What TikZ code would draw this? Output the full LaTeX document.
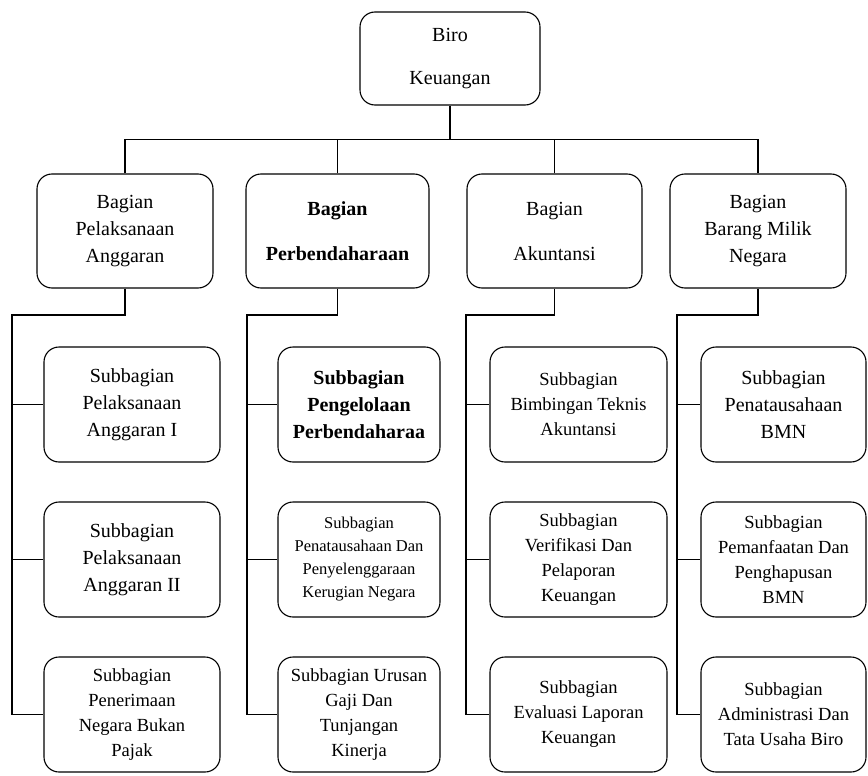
\documentclass[tikz,border=0pt]{standalone}
\usepackage{fontspec}
\setmainfont{Liberation Serif}
\usetikzlibrary{positioning}

\begin{document}
\begin{tikzpicture}[x=1pt,y=-1pt,line width=1.1pt,node distance=155pt,
    big/.style={font=\fontsize{20}{27}\selectfont},
    mid/.style={font=\fontsize{18.5}{25}\selectfont},
    small/.style={font=\fontsize{16.5}{23}\selectfont},
    bold/.style={font=\fontsize{20}{27}\selectfont\bfseries},
    unit/.style={draw,rounded corners=15pt,align=center,inner sep=2pt,big},
    bagian/.style={unit,minimum width=176pt,minimum height=114pt},
    sub/.style={unit,minimum width=176pt,minimum height=115pt},
    narrow/.style={minimum width=162pt},
    edge4/.style={minimum width=165pt}]

        \useasboundingbox (0,0) rectangle (868,776);

        \node[unit,minimum width=180pt,minimum height=93pt] (biro) at (450,58.5)
              {Biro\\[16pt]Keuangan};

        \node[bagian] (bpa) at (125,231) {Bagian\\Pelaksanaan\\Anggaran};
        \node[bagian,bold,minimum width=183pt] (bper) at (337.5,231)
              {Bagian\\[18pt]Perbendaharaan};
        \node[bagian,minimum width=175pt] (bak) at (554.5,231) {Bagian\\[18pt]Akuntansi};
        \node[bagian] (bbmn) at (758,231) {Bagian\\Barang Milik\\Negara};

        \node[sub] (spa1) at (132,404.5) {Subbagian\\Pelaksanaan\\Anggaran I};
        \node[sub] (spa2) [below of=spa1] {Subbagian\\Pelaksanaan\\Anggaran II};
        \node[sub,mid] (spnbp) [below of=spa2]
              {Subbagian\\Penerimaan\\Negara Bukan\\Pajak};

        \node[sub,narrow,bold] (sppb) at (359,404.5)
              {Subbagian\\Pengelolaan\\Perbendaharaa};
        \node[sub,narrow,small] (spkn) [below of=sppb]
              {Subbagian\\Penatausahaan Dan\\Penyelenggaraan\\Kerugian Negara};
        \node[sub,narrow,mid] (sgaji) [below of=spkn]
              {Subbagian Urusan\\Gaji Dan\\Tunjangan\\Kinerja};

        \node[sub,minimum width=177pt,mid] (sbta) at (578.5,404.5)
              {Subbagian\\Bimbingan Teknis\\Akuntansi};
        \node[sub,minimum width=177pt,mid] (svpk) [below of=sbta]
              {Subbagian\\Verifikasi Dan\\Pelaporan\\Keuangan};
        \node[sub,minimum width=177pt,mid] (selk) [below of=svpk]
              {Subbagian\\Evaluasi Laporan\\Keuangan};

        \node[sub,edge4] (spbmn) at (783.5,404.5) {Subbagian\\Penatausahaan\\BMN};
        \node[sub,edge4,mid] (spmf) [below of=spbmn]
              {Subbagian\\Pemanfaatan Dan\\Penghapusan\\BMN};
        \node[sub,edge4,mid] (sadm) [below of=spmf]
              {Subbagian\\Administrasi Dan\\Tata Usaha Biro};

        \coordinate (bus) at (450,139.5);
        \coordinate (j1) at (12,315);
        \coordinate (j2) at (247,315);
        \coordinate (j3) at (466,315);
        \coordinate (j4) at (677,315);

        \draw (biro.south) -- (bus);
        \draw (bpa.north) |- (bus) -| (bbmn.north);
        \draw (bper.north) -- (bper.north |- bus);
        \draw (bak.north) -- (bak.north |- bus);

        \draw (bpa.south) |- (j1) |- (spnbp.west);
        \draw (spa1.west -| j1) -- (spa1.west);
        \draw (spa2.west -| j1) -- (spa2.west);

        \draw (bper.south) |- (j2) |- (sgaji.west);
        \draw (sppb.west -| j2) -- (sppb.west);
        \draw (spkn.west -| j2) -- (spkn.west);

        \draw (bak.south) |- (j3) |- (selk.west);
        \draw (sbta.west -| j3) -- (sbta.west);
        \draw (svpk.west -| j3) -- (svpk.west);

        \draw (bbmn.south) |- (j4) |- (sadm.west);
        \draw (spbmn.west -| j4) -- (spbmn.west);
        \draw (spmf.west -| j4) -- (spmf.west);
      \end{tikzpicture}
\end{document}
